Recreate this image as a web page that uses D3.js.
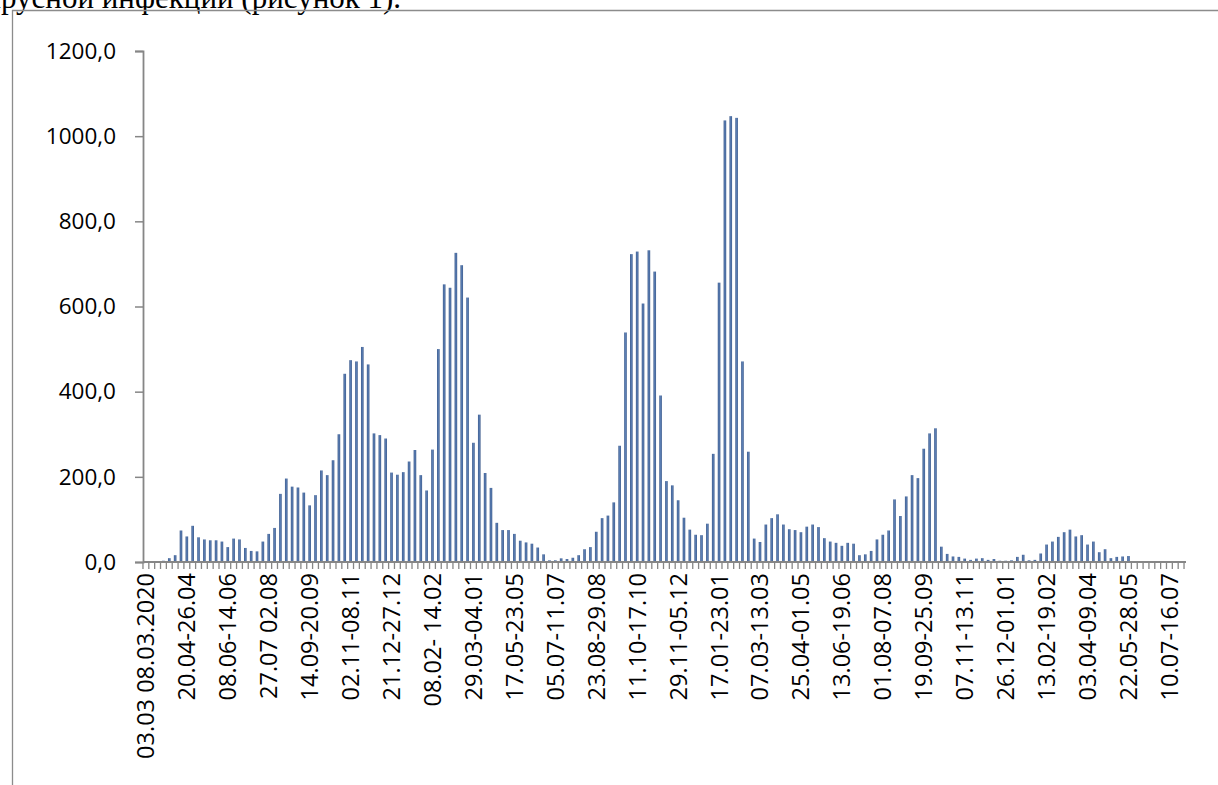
<!DOCTYPE html>
<html>
<head>
<meta charset="utf-8">
<script src="https://cdn.jsdelivr.net/npm/d3@7"></script>
<style>
  html, body { margin: 0; padding: 0; background: #fff; overflow: hidden; }
  svg { display: block; }
</style>
</head>
<body>
<div id="chart"></div>
<script>
// Weekly values, 03.03.2020 onwards (one bar per week)
const values = [
  0.2, 0.5, 1.5, 3, 9, 16, 74, 60, 85, 58,
  53, 51, 51, 48, 35, 55, 53, 33, 26, 25,
  48, 66, 80, 160, 196, 177, 175, 163, 133, 157,
  215, 204, 239, 300, 442, 474, 471, 505, 464, 302,
  298, 290, 210, 205, 211, 236, 263, 204, 168, 264,
  500, 652, 644, 726, 697, 621, 280, 346, 209, 174,
  92, 75, 75, 66, 50, 46, 43, 34, 18, 4,
  4, 8.6, 7, 10, 16, 30, 35, 71, 103, 109,
  140, 273, 539, 723, 729, 607, 732, 682, 391, 190,
  180, 145, 104, 76, 64, 63, 90, 254, 656, 1037,
  1047, 1043, 471, 259, 55, 47, 88, 103, 112, 88,
  77, 75, 70, 83, 88, 82, 56, 48, 45, 38,
  45, 43, 16, 18, 26, 53, 64, 74, 147, 108,
  154, 204, 197, 266, 302, 314, 36, 19, 13, 12,
  8, 5, 8, 9, 5, 7, 3, 3, 4, 12,
  17, 4, 5, 20, 41, 48, 59, 70, 76, 60,
  63, 41, 48, 23, 30, 9, 12, 13, 14, 2,
  2, 2, 1.5, 1, 1, 1, 1, 1
];

// category = week number
const weeks = values.map((v, i) => i);

// labels shown every 7th week
const tickLabels = [
  '03.03 08.03.2020', '20.04-26.04', '08.06-14.06', '27.07 02.08',
  '14.09-20.09', '02.11-08.11', '21.12-27.12', '08.02- 14.02',
  '29.03-04.01', '17.05-23.05', '05.07-11.07', '23.08-29.08',
  '11.10-17.10', '29.11-05.12', '17.01-23.01', '07.03-13.03',
  '25.04-01.05', '13.06-19.06', '01.08-07.08', '19.09-25.09',
  '07.11-13.11', '26.12-01.01', '13.02-19.02', '03.04-09.04',
  '22.05-28.05', '10.07-16.07'
];
const labelStep = 7;

const yTicks = [0, 200, 400, 600, 800, 1000, 1200];

const W = 1218, H = 785;
const plotLeft = 143, plotRight = 1184, plotTop = 51, plotBottom = 562;
const axisColor = '#868686';
const font = '"Open Sans", sans-serif';

const svg = d3.select('#chart').append('svg')
  .attr('width', W).attr('height', H);

// bar gradient (Excel-like shading)
const grad = svg.append('defs').append('linearGradient')
  .attr('id', 'barGrad').attr('x1', '0%').attr('x2', '100%');
grad.append('stop').attr('offset', '0%').attr('stop-color', '#3d5b8c');
grad.append('stop').attr('offset', '50%').attr('stop-color', '#5b7fb5');
grad.append('stop').attr('offset', '100%').attr('stop-color', '#3d5b8c');

// piece of the document text above the chart (cut by the page top)
const docFont = '"Liberation Serif", "Times New Roman", serif';
const docSize = '31px';
const hidden = svg.append('text')
  .style('font-family', docFont).style('font-size', docSize)
  .text('коронави');
const hiddenLen = hidden.node().getComputedTextLength();
hidden.remove();
svg.append('text')
  .attr('x', 1 - hiddenLen).attr('y', 8)
  .style('font-family', docFont)
  .style('font-size', docSize)
  .attr('fill', '#000')
  .text('коронавирусной инфекции (рисунок 1).');

// chart frame
svg.append('line').attr('x1', 12.5).attr('x2', 12.5).attr('y1', 10).attr('y2', H)
  .attr('stroke', '#8c8c8c').attr('stroke-width', 1.3);
svg.append('line').attr('x1', 12).attr('x2', W).attr('y1', 10.5).attr('y2', 10.5)
  .attr('stroke', '#8c8c8c').attr('stroke-width', 1.3);

const x = d3.scaleBand()
  .domain(weeks)
  .range([plotLeft, plotRight])
  .paddingInner(0.55)
  .paddingOuter(0.27);

const y = d3.scaleLinear()
  .domain([0, 1200])
  .range([plotBottom, plotTop]);

// bars
svg.append('g')
  .selectAll('rect')
  .data(values)
  .enter()
  .append('rect')
  .attr('x', (d, i) => x(i))
  .attr('width', x.bandwidth())
  .attr('y', d => y(d))
  .attr('height', d => Math.max(0.6, plotBottom - y(d)))
  .attr('fill', 'url(#barGrad)');

// y axis
const yAxis = d3.axisLeft(y)
  .tickValues(yTicks)
  .tickSize(8)
  .tickPadding(19)
  .tickFormat(d => d3.format('.1f')(d).replace('.', ','));

const gy = svg.append('g')
  .attr('transform', `translate(${plotLeft},0)`)
  .call(yAxis);
gy.select('.domain').attr('stroke', axisColor).attr('stroke-width', 1.8);
gy.selectAll('.tick line').attr('stroke', axisColor).attr('stroke-width', 1.5);
gy.selectAll('.tick text')
  .style('font-family', font).style('font-size', '22.5px').attr('fill', '#000');

// x axis: tick marks between every category
const step = x.step();
const firstEdge = x(0) - step * x.paddingInner() / 2;
const bounds = d3.range(values.length + 1);
const gx = svg.append('g');
gx.selectAll('line.tk')
  .data(bounds)
  .enter()
  .append('line')
  .attr('class', 'tk')
  .attr('x1', d => firstEdge + d * step)
  .attr('x2', d => firstEdge + d * step)
  .attr('y1', plotBottom)
  .attr('y2', plotBottom + 7)
  .attr('stroke', axisColor)
  .attr('stroke-width', 1.3);
gx.append('line')
  .attr('x1', plotLeft).attr('x2', plotRight + 2)
  .attr('y1', plotBottom).attr('y2', plotBottom)
  .attr('stroke', axisColor).attr('stroke-width', 2.2);

// rotated category labels
gx.selectAll('text')
  .data(tickLabels)
  .enter()
  .append('text')
  .attr('transform', (d, i) => {
    const cx = x(i * labelStep) + x.bandwidth() / 2;
    return `translate(${cx},${plotBottom + 11}) rotate(-90)`;
  })
  .attr('text-anchor', 'end')
  .attr('dy', '0.36em')
  .style('font-family', font)
  .style('font-size', '23.5px')
  .attr('fill', '#000')
  .text(d => d);
</script>
</body>
</html>
